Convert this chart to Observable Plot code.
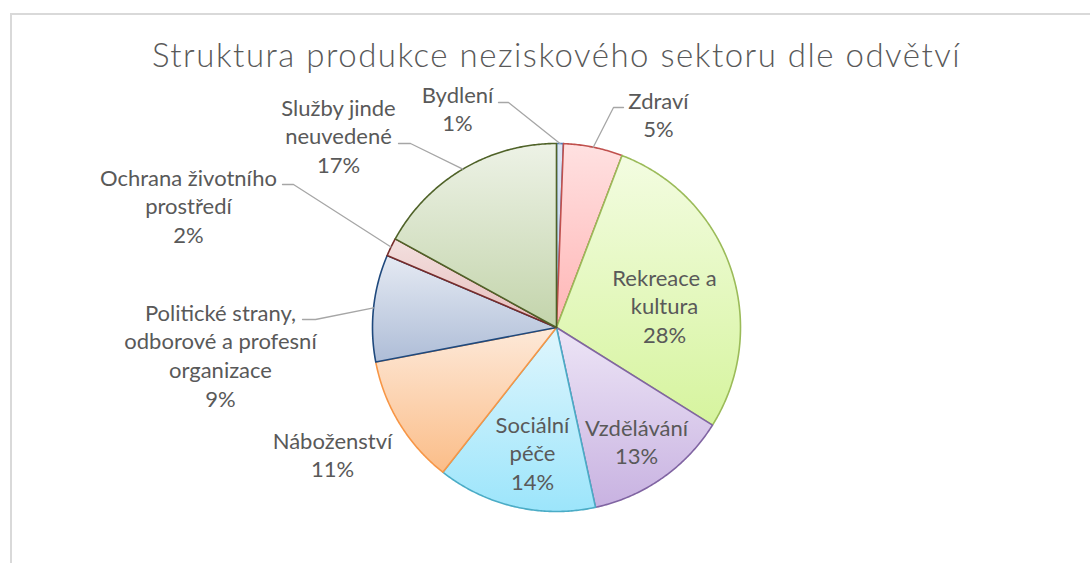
<!DOCTYPE html>
<html><head><meta charset="utf-8">
<script src="https://cdn.jsdelivr.net/npm/d3@7"></script>
<script src="https://cdn.jsdelivr.net/npm/@observablehq/plot@0.6"></script>
<style>
html,body{margin:0;padding:0;background:#fff;overflow:hidden;width:1090px;height:563px}
#frame{position:absolute;left:10px;top:13px;width:1200px;height:700px;border:2px solid #d9d9d9;box-sizing:border-box}
#chart{position:absolute;left:0;top:0}
</style></head><body>
<div id="frame"></div><div id="chart"></div>
<script>
// ---- data ----
const title = "Struktura produkce neziskového sektoru dle odvětví";
const categories = ["Bydlení","Zdraví","Rekreace a kultura","Vzdělávání","Sociální péče","Náboženství","Politické strany, odborové a profesní organizace","Ochrana životního prostředí","Služby jinde neuvedené"];
const shares = [0.6, 5.2, 28.1, 12.7, 14.0, 11.4, 9.4, 1.6, 17.0];
const labelLines = [["Bydlení"],["Zdraví"],["Rekreace a","kultura"],["Vzdělávání"],["Sociální","péče"],["Náboženství"],["Politické strany,","odborové a profesní","organizace"],["Ochrana životního","prostředí"],["Služby jinde","neuvedené"]];

// ---- styles ----
const fillTop    = ["#dce6f4","#ffe1e1","#f3fce1","#ede5f6","#e0f6fd","#fde9d9","#e5eaf3","#f3e0df","#edf2e6"];
const fillBottom = ["#b9cde9","#ffb5b5","#d6f49e","#c8b2e1","#9ce5fb","#fbbd88","#aebdd7","#e6bdbc","#c3d4ab"];
const edge       = ["#4f81bd","#c0504d","#9bbb59","#8064a2","#4bacc6","#f79646","#1f497d","#772c2a","#4f6228"];

// ---- layout (pixels, relative to pie centre) ----
const W = 1090, H = 563, cx = 556, cy = 327, R = 184;
const lineStep = 28.7, fontSize = 22, titleSize = 33;
// label block: centre x, first baseline y ; leader: [startX, y, elbowX] or null
const labelLayout = [
  {x:-99,  y:-225, leader:[-58,-225,-48]},
  {x:102,  y:-219, leader:[67,-220,57]},
  {x:108,  y:-42,  leader:null},
  {x:80,   y:108,  leader:null},
  {x:-24,  y:105,  leader:null},
  {x:-224, y:121,  leader:null},
  {x:-336, y:-7,   leader:[-254,-8,-241]},
  {x:-368, y:-142, leader:[-274,-143,-263]},
  {x:-218, y:-212, leader:[-158,-184,-146]}
];

const total = d3.sum(shares);
let acc = 0;
const slices = shares.map((v, i) => {
  const a0 = acc / total * 2 * Math.PI; acc += v;
  const a1 = acc / total * 2 * Math.PI;
  return {i, name: categories[i], value: v, a0, a1, mid: (a0 + a1) / 2,
          pct: Math.round(v / total * 100) + "%"};
});
const px = a => R * Math.sin(a), py = a => -R * Math.cos(a);

const marks = [];
slices.forEach(s => {
  const pts = [{x:0, y:0}];
  const n = Math.max(2, Math.ceil((s.a1 - s.a0) / (Math.PI / 360)));
  for (let k = 0; k <= n; k++) { const a = s.a0 + (s.a1 - s.a0) * k / n; pts.push({x: px(a), y: py(a)}); }
  pts.push({x:0, y:0});
  marks.push(Plot.line(pts, {x:"x", y:"y", fill:`url(#g${s.i})`, stroke: edge[s.i], strokeWidth: 1.6, strokeLinejoin:"round", curve:"linear"}));
});

// leaders
slices.forEach(s => {
  const L = labelLayout[s.i].leader;
  if (!L) return;
  const pts = [{x:L[0], y:L[1]}, {x:L[2], y:L[1]}, {x:px(s.mid), y:py(s.mid)}];
  marks.push(Plot.line(pts, {x:"x", y:"y", stroke:"#a6a6a6", strokeWidth:1.3}));
});

// labels
const textRows = [];
slices.forEach(s => {
  const lines = [...labelLines[s.i], s.pct];
  const L = labelLayout[s.i];
  lines.forEach((t, k) => textRows.push({t, x: L.x, y: L.y + k * lineStep}));
});
marks.push(Plot.text(textRows, {x:"x", y:"y", text:"t", textAnchor:"middle", lineAnchor:"bottom", fill:"#595959", fontSize, fontFamily:"Lato"}));
marks.push(Plot.text([title], {x:() => 0, y:() => 66 - cy, text: d => d, textAnchor:"middle", lineAnchor:"bottom", fill:"#595959", fontSize:titleSize, fontWeight:300, fontFamily:"Lato", style:"letter-spacing:1.5px"}));

const svg = Plot.plot({
  width: W, height: H, margin: 0,
  x: {domain:[-cx, W - cx], range:[0, W], axis:null},
  y: {domain:[-cy, H - cy], range:[0, H], axis:null},
  style: {background:"transparent", fontFamily:"Lato"},
  marks
});
const defs = d3.select(svg).insert("defs", ":first-child");
slices.forEach(s => {
  const g = defs.append("linearGradient").attr("id", `g${s.i}`).attr("x1",0).attr("y1",0).attr("x2",0).attr("y2",1);
  g.append("stop").attr("offset","0%").attr("stop-color", fillTop[s.i]);
  g.append("stop").attr("offset","100%").attr("stop-color", fillBottom[s.i]);
});
// title letter spacing
d3.select(svg).selectAll("text").filter(function(){ return this.textContent === title; }).style("letter-spacing","1.5px");
document.getElementById("chart").appendChild(svg);
</script>
</body></html>
